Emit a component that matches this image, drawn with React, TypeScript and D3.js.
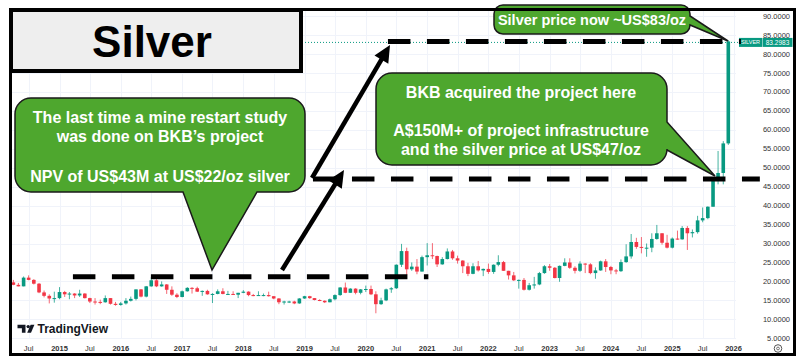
import { useEffect, useRef } from "react";
import * as d3 from "d3";

// monthly silver candles (XAGUSD)
const months = [
  "2014-04", "2014-05", "2014-06", "2014-07", "2014-08", "2014-09", "2014-10", "2014-11", "2014-12",
  "2015-01", "2015-02", "2015-03", "2015-04", "2015-05", "2015-06", "2015-07", "2015-08", "2015-09", "2015-10", "2015-11", "2015-12",
  "2016-01", "2016-02", "2016-03", "2016-04", "2016-05", "2016-06", "2016-07", "2016-08", "2016-09", "2016-10", "2016-11", "2016-12",
  "2017-01", "2017-02", "2017-03", "2017-04", "2017-05", "2017-06", "2017-07", "2017-08", "2017-09", "2017-10", "2017-11", "2017-12",
  "2018-01", "2018-02", "2018-03", "2018-04", "2018-05", "2018-06", "2018-07", "2018-08", "2018-09", "2018-10", "2018-11", "2018-12",
  "2019-01", "2019-02", "2019-03", "2019-04", "2019-05", "2019-06", "2019-07", "2019-08", "2019-09", "2019-10", "2019-11", "2019-12",
  "2020-01", "2020-02", "2020-03", "2020-04", "2020-05", "2020-06", "2020-07", "2020-08", "2020-09", "2020-10", "2020-11", "2020-12",
  "2021-01", "2021-02", "2021-03", "2021-04", "2021-05", "2021-06", "2021-07", "2021-08", "2021-09", "2021-10", "2021-11", "2021-12",
  "2022-01", "2022-02", "2022-03", "2022-04", "2022-05", "2022-06", "2022-07", "2022-08", "2022-09", "2022-10", "2022-11", "2022-12",
  "2023-01", "2023-02", "2023-03", "2023-04", "2023-05", "2023-06", "2023-07", "2023-08", "2023-09", "2023-10", "2023-11", "2023-12",
  "2024-01", "2024-02", "2024-03", "2024-04", "2024-05", "2024-06", "2024-07", "2024-08", "2024-09", "2024-10", "2024-11", "2024-12",
  "2025-01", "2025-02", "2025-03", "2025-04", "2025-05", "2025-06", "2025-07", "2025-08", "2025-09", "2025-10", "2025-11", "2025-12",
];

const opens = [
  19.75, 19.1, 18.7, 21.0, 20.4, 19.4, 17.1, 16.2, 15.5,
  15.6, 17.2, 16.6, 16.8, 16.3, 16.8, 15.6, 14.7, 14.6, 14.5, 15.6, 14.1,
  13.8, 14.2, 14.9, 15.4, 17.9, 16.0, 18.7, 20.3, 18.7, 19.2, 17.8, 16.5,
  15.9, 17.4, 18.3, 18.2, 17.3, 17.5, 16.6, 16.7, 17.4, 16.7, 16.7, 16.5,
  17.0, 17.3, 16.4, 16.3, 16.4, 16.4, 16.1, 15.5, 14.5, 14.7, 14.7, 14.2,
  15.5, 16.1, 15.6, 15.1, 14.9, 14.5, 15.3, 16.4, 18.4, 17.0, 18.1, 17.0,
  17.9, 18.0, 16.6, 14.0, 15.0, 17.9, 18.2, 24.4, 28.0, 23.2, 23.9, 22.6,
  26.4, 26.9, 26.7, 24.5, 25.9, 27.9, 26.1, 25.5, 24.0, 22.0, 24.0, 22.9,
  23.3, 22.5, 24.4, 25.1, 22.8, 21.6, 20.3, 20.4, 17.8, 19.0, 19.2, 22.2,
  24.0, 23.6, 20.9, 24.1, 25.0, 23.6, 22.8, 24.7, 24.5, 22.2, 22.9, 25.3,
  23.8, 22.9, 22.7, 25.1, 26.6, 30.4, 29.1, 28.9, 28.9, 31.2, 32.7, 30.2,
  28.9, 31.3, 31.1, 34.1, 32.7, 33.0, 36.1, 36.7, 39.7, 46.8, 48.6, 56.4,
];

const highs = [
  20.4, 19.6, 21.3, 21.6, 20.6, 19.6, 17.6, 16.6, 17.3,
  18.5, 17.5, 17.2, 16.9, 17.8, 16.9, 15.7, 15.6, 15.2, 16.3, 15.6, 14.6,
  14.6, 15.6, 16.0, 17.9, 18.0, 18.8, 21.1, 20.6, 20.0, 19.3, 18.7, 16.9,
  17.6, 18.5, 18.5, 18.6, 17.6, 17.8, 16.9, 17.9, 18.2, 17.5, 17.4, 17.0,
  17.7, 17.4, 16.7, 17.4, 16.8, 17.3, 16.1, 15.6, 14.9, 14.9, 14.9, 15.6,
  16.2, 16.2, 15.6, 15.3, 15.0, 15.5, 16.6, 18.5, 19.7, 18.2, 18.2, 18.0,
  18.9, 18.9, 17.4, 15.7, 18.1, 18.5, 24.5, 29.9, 28.9, 25.0, 25.9, 26.8,
  30.1, 30.1, 26.8, 26.4, 28.7, 28.3, 26.8, 25.6, 24.9, 24.8, 25.4, 23.4,
  24.7, 24.5, 26.9, 25.4, 22.8, 22.5, 20.5, 20.9, 19.6, 21.2, 22.5, 24.3,
  24.6, 23.8, 24.2, 26.1, 26.1, 24.0, 25.3, 24.8, 24.8, 23.7, 25.5, 25.9,
  24.1, 23.3, 25.8, 29.8, 32.5, 31.5, 31.7, 30.0, 32.7, 34.9, 32.7, 32.3,
  31.6, 33.4, 34.6, 34.6, 33.7, 37.3, 39.5, 39.8, 47.0, 54.4, 57.0, 83.6,
];

const lows = [
  19.0, 18.7, 18.7, 20.3, 19.2, 16.9, 15.8, 14.2, 14.4,
  15.3, 15.9, 15.3, 15.6, 15.9, 15.5, 14.3, 13.9, 14.0, 14.4, 13.9, 13.6,
  13.6, 13.9, 14.7, 15.0, 15.8, 15.8, 18.6, 18.5, 18.6, 16.7, 16.2, 15.6,
  15.8, 17.3, 16.8, 17.2, 16.2, 16.5, 14.3, 16.6, 16.6, 16.6, 16.5, 15.6,
  16.9, 16.1, 16.1, 16.3, 16.1, 16.0, 15.3, 14.0, 13.9, 14.3, 14.0, 14.1,
  15.4, 15.4, 15.0, 14.8, 14.3, 14.5, 15.0, 16.2, 16.9, 17.0, 16.6, 16.6,
  17.2, 16.4, 11.6, 13.8, 14.8, 17.0, 18.0, 23.8, 21.7, 22.8, 21.9, 22.6,
  24.2, 25.9, 23.8, 24.4, 25.8, 25.7, 24.7, 22.2, 21.4, 21.9, 22.6, 21.4,
  22.0, 22.0, 24.0, 22.8, 20.5, 20.1, 18.1, 17.6, 17.6, 18.1, 19.0, 22.0,
  22.8, 20.8, 19.9, 24.0, 23.3, 22.1, 22.5, 22.2, 21.9, 20.7, 22.8, 22.5,
  21.9, 21.9, 22.5, 24.9, 26.0, 28.6, 27.4, 26.5, 27.7, 31.0, 29.7, 28.7,
  28.7, 31.0, 31.0, 28.3, 31.6, 32.6, 35.6, 36.4, 39.7, 45.6, 45.6, 56.0,
];

const closes = [
  19.1, 18.7, 21.0, 20.4, 19.4, 17.1, 16.2, 15.5, 15.6,
  17.2, 16.6, 16.8, 16.3, 16.8, 15.6, 14.7, 14.6, 14.5, 15.6, 14.1, 13.8,
  14.2, 14.9, 15.4, 17.9, 16.0, 18.7, 20.3, 18.7, 19.2, 17.8, 16.5, 15.9,
  17.4, 18.3, 18.2, 17.3, 17.5, 16.6, 16.7, 17.4, 16.7, 16.7, 16.5, 17.0,
  17.3, 16.4, 16.3, 16.4, 16.4, 16.1, 15.5, 14.5, 14.7, 14.7, 14.2, 15.5,
  16.1, 15.6, 15.1, 14.9, 14.5, 15.3, 16.4, 18.4, 17.0, 18.1, 17.0, 17.9,
  18.0, 16.6, 14.0, 15.0, 17.9, 18.2, 24.4, 28.0, 23.2, 23.9, 22.6, 26.4,
  26.9, 26.7, 24.5, 25.9, 27.9, 26.1, 25.5, 24.0, 22.0, 24.0, 22.9, 23.3,
  22.5, 24.4, 25.1, 22.8, 21.6, 20.3, 20.4, 17.8, 19.0, 19.2, 22.2, 24.0,
  23.6, 20.9, 24.1, 25.0, 23.6, 22.8, 24.7, 24.5, 22.2, 22.9, 25.3, 23.8,
  22.9, 22.7, 25.1, 26.6, 30.4, 29.1, 28.9, 28.9, 31.2, 32.7, 30.2, 28.9,
  31.3, 31.1, 34.1, 32.7, 33.0, 36.1, 36.7, 39.7, 46.8, 48.6, 56.4, 83.3,
];

const lastPrice = 83.2983;
const priceTicks = [5, 10, 15, 20, 25, 30, 35, 40, 45, 50, 55, 60, 65, 70, 75, 80, 85, 90];
const timeTicks = [
  "2014-07", "2015-01", "2015-07", "2016-01", "2016-07", "2017-01", "2017-07", "2018-01", "2018-07",
  "2019-01", "2019-07", "2020-01", "2020-07", "2021-01", "2021-07", "2022-01", "2022-07", "2023-01",
  "2023-07", "2024-01", "2024-07", "2025-01", "2025-07", "2026-01",
];

// dashed price levels drawn on the chart: [price, from, to]
const levelPrices = [21.2, 47.0, 83.3];
const levelStarts = ["2015-03-22", "2019-02-20", "2020-05-12"];
const levelEnds = ["2021-01-08", "2026-06-07", "2026-02-14"];

const calloutLines1 = ["The last time a mine restart study", "was done on BKB\u2019s project", "", "NPV of US$43M at US$22/oz silver"];
const calloutLines2 = ["BKB acquired the project here", "", "A$150M+ of project infrastructure", "and the silver price at US$47/oz"];
const calloutLines3 = ["Silver price now ~US$83/oz"];

const FONT = "'Liberation Sans', Arial, Helvetica, sans-serif";
const UP = "#089981";
const DOWN = "#f23645";
const CALLOUT = "#4ea72e";

// rounded box with a pointer on bottom or right side
const calloutPath = (
  x0: number, y0: number, x1: number, y1: number, r: number,
  side: "bottom" | "right", a: number, b: number, tx: number, ty: number
) => {
  let p = `M${x0 + r},${y0} H${x1 - r} A${r},${r} 0 0 1 ${x1},${y0 + r}`;
  if (side === "right") p += ` V${a} L${tx},${ty} L${x1},${b}`;
  p += ` V${y1 - r} A${r},${r} 0 0 1 ${x1 - r},${y1}`;
  if (side === "bottom") p += ` H${b} L${tx},${ty} L${a},${y1}`;
  p += ` H${x0 + r} A${r},${r} 0 0 1 ${x0},${y1 - r} V${y0 + r} A${r},${r} 0 0 1 ${x0 + r},${y0} Z`;
  return p;
};

const App = () => {
  const chartContainer = useRef<SVGSVGElement>(null);

  useEffect(() => {
    const width = 800;
    const height = 363;
    const plotLeft = 12;
    const plotRight = 736;
    const plotTop = 10;
    const plotBottom = 339;

    const parseM = d3.timeParse("%Y-%m");
    const parseD = d3.timeParse("%Y-%m-%d");

    const x = d3
      .scaleTime()
      .domain([new Date(2015, 0, 1), new Date(2026, 0, 1)])
      .range([59.5, 733.5]);
    const y = d3.scaleLinear().domain([5, 90]).range([338.3, 16]);

    const svg = d3.select(chartContainer.current);
    svg.selectAll("*").remove();
    svg.attr("width", width).attr("height", height);

    svg.append("rect").attr("width", width).attr("height", height).attr("fill", "#fff");

    const clip = svg.append("defs").append("clipPath").attr("id", "plot");
    clip
      .append("rect")
      .attr("x", plotLeft)
      .attr("y", plotTop)
      .attr("width", plotRight - plotLeft)
      .attr("height", plotBottom - plotTop);

    // grid
    const grid = svg.append("g").attr("stroke", "#f0f3fa").attr("stroke-width", 1);
    grid
      .selectAll("line.v")
      .data(timeTicks)
      .enter()
      .append("line")
      .attr("x1", (d) => Math.round(x(parseM(d)!)) + 0.5)
      .attr("x2", (d) => Math.round(x(parseM(d)!)) + 0.5)
      .attr("y1", plotTop)
      .attr("y2", plotBottom);
    grid
      .selectAll("line.h")
      .data(priceTicks)
      .enter()
      .append("line")
      .attr("x1", plotLeft)
      .attr("x2", plotRight)
      .attr("y1", (d) => Math.round(y(d)) + 0.5)
      .attr("y2", (d) => Math.round(y(d)) + 0.5);

    // candles
    const candles = months.map((m, i) => ({
      date: parseM(m)!,
      o: opens[i],
      h: highs[i],
      l: lows[i],
      c: closes[i],
    }));
    const bw = 3.6;
    const cg = svg.append("g").attr("clip-path", "url(#plot)");
    const g = cg
      .selectAll("g.candle")
      .data(candles)
      .enter()
      .append("g")
      .attr("class", "candle");
    g.append("line")
      .attr("x1", (d) => x(d.date))
      .attr("x2", (d) => x(d.date))
      .attr("y1", (d) => y(d.h))
      .attr("y2", (d) => y(d.l))
      .attr("stroke", (d) => (d.c >= d.o ? UP : DOWN))
      .attr("stroke-opacity", 0.75)
      .attr("stroke-width", 1);
    g.append("rect")
      .attr("x", (d) => x(d.date) - bw / 2)
      .attr("y", (d) => y(Math.max(d.o, d.c)))
      .attr("width", bw)
      .attr("height", (d) => Math.max(1, Math.abs(y(d.o) - y(d.c))))
      .attr("fill", (d) => (d.c >= d.o ? UP : DOWN));

    // last price dotted line
    svg
      .append("line")
      .attr("x1", 302)
      .attr("x2", 739)
      .attr("y1", y(lastPrice) + 1)
      .attr("y2", y(lastPrice) + 1)
      .attr("stroke", UP)
      .attr("stroke-width", 1)
      .attr("stroke-dasharray", "1,2");

    // price axis
    svg
      .append("g")
      .selectAll("text")
      .data(priceTicks)
      .enter()
      .append("text")
      .attr("x", 790)
      .attr("y", (d) => y(d))
      .attr("dy", "0.35em")
      .attr("text-anchor", "end")
      .attr("font-family", FONT)
      .attr("font-size", 7.5)
      .attr("fill", "#333")
      .text((d) => d3.format(".4f")(d));

    // time axis
    svg
      .append("g")
      .selectAll("text")
      .data(timeTicks)
      .enter()
      .append("text")
      .attr("x", (d) => x(parseM(d)!))
      .attr("y", 348)
      .attr("dy", "0.35em")
      .attr("text-anchor", "middle")
      .attr("font-family", FONT)
      .attr("font-size", 7.5)
      .attr("font-weight", (d) => (d.endsWith("-01") ? "bold" : "normal"))
      .attr("fill", "#333")
      .text((d) => (d.endsWith("-01") ? d.slice(0, 4) : "Jul"));

    // settings gear
    svg.append("circle").attr("cx", 778).attr("cy", 348.5).attr("r", 3.8).attr("fill", "none").attr("stroke", "#555").attr("stroke-width", 1);
    svg.append("circle").attr("cx", 778).attr("cy", 348.5).attr("r", 1.4).attr("fill", "none").attr("stroke", "#555").attr("stroke-width", 0.8);

    // last price tag
    const ty = y(lastPrice) + 1;
    svg.append("rect").attr("x", 739).attr("y", ty - 4.5).attr("width", 23).attr("height", 9).attr("fill", UP);
    svg.append("rect").attr("x", 762.5).attr("y", ty - 4.5).attr("width", 30).attr("height", 9).attr("fill", UP);
    svg
      .append("text")
      .attr("x", 750.5)
      .attr("y", ty)
      .attr("dy", "0.35em")
      .attr("text-anchor", "middle")
      .attr("font-family", FONT)
      .attr("font-size", 5.5)
      .attr("fill", "#fff")
      .text("SILVER");
    svg
      .append("text")
      .attr("x", 777.5)
      .attr("y", ty)
      .attr("dy", "0.35em")
      .attr("text-anchor", "middle")
      .attr("font-family", FONT)
      .attr("font-size", 6.5)
      .attr("fill", "#fff")
      .text(d3.format(".4f")(lastPrice));

    // TradingView watermark
    const logo = svg.append("g").attr("fill", "#131722");
    logo.append("path").attr("d", "M17.5,324.8 h8 v8 h-3.6 v-4.6 h-4.4 z");
    logo.append("circle").attr("cx", 28.2).attr("cy", 326.6).attr("r", 1.7);
    logo.append("path").attr("d", "M27.2,332.8 L30.6,324.8 H34.4 L31,332.8 Z");
    logo
      .append("text")
      .attr("x", 37.5)
      .attr("y", 332.6)
      .attr("font-family", FONT)
      .attr("font-size", 12)
      .attr("font-weight", 600)
      .text("TradingView");

    // dashed price levels
    svg
      .append("g")
      .selectAll("line")
      .data(levelPrices)
      .enter()
      .append("line")
      .attr("x1", (_, i) => x(parseD(levelStarts[i])!))
      .attr("x2", (_, i) => x(parseD(levelEnds[i])!))
      .attr("y1", (d) => y(d))
      .attr("y2", (d) => y(d))
      .attr("stroke", "#000")
      .attr("stroke-width", 5)
      .attr("stroke-dasharray", "22.5,16.5");

    // arrows
    const arrow = (x0: number, y0: number, x1: number, y1: number) => {
      const len = Math.hypot(x1 - x0, y1 - y0);
      const ux = (x1 - x0) / len;
      const uy = (y1 - y0) / len;
      const hl = 17;
      const hw = 8;
      const bx = x1 - ux * hl;
      const by = y1 - uy * hl;
      svg
        .append("line")
        .attr("x1", x0)
        .attr("y1", y0)
        .attr("x2", bx + ux * 2)
        .attr("y2", by + uy * 2)
        .attr("stroke", "#000")
        .attr("stroke-width", 4.5);
      svg
        .append("path")
        .attr("d", `M${x1},${y1} L${bx - uy * hw},${by + ux * hw} L${bx + uy * hw},${by - ux * hw} Z`)
        .attr("fill", "#000");
    };
    arrow(282, 270, 344, 170);
    arrow(312, 178, 390, 45);

    // callouts
    const drawCallout = (d: string, lines: string[], cx: number, firstBaseline: number, lh: number, fs: number) => {
      svg.append("path").attr("d", d).attr("fill", CALLOUT).attr("stroke", "#1a1a1a").attr("stroke-width", 1.5);
      svg
        .append("g")
        .selectAll("text")
        .data(lines)
        .enter()
        .append("text")
        .attr("x", cx)
        .attr("y", (_, i) => firstBaseline + i * lh)
        .attr("text-anchor", "middle")
        .attr("font-family", FONT)
        .attr("font-size", fs)
        .attr("font-weight", "bold")
        .attr("fill", "#fff")
        .text((t) => t);
    };
    drawCallout(calloutPath(15, 98, 305, 192, 16, "bottom", 183, 257, 212, 270), calloutLines1, 160, 122.5, 19.7, 16);
    drawCallout(calloutPath(376, 73, 667, 165, 16, "right", 122, 150, 715, 176), calloutLines2, 521, 97.5, 19, 16);
    drawCallout(calloutPath(494, 5, 690, 34, 9, "right", 16, 25, 728, 41), calloutLines3, 592, 25, 19, 14.5);

    // title box
    svg
      .append("rect")
      .attr("x", 11)
      .attr("y", 10)
      .attr("width", 290)
      .attr("height", 61)
      .attr("fill", "#eeeeee")
      .attr("stroke", "#000")
      .attr("stroke-width", 4);
    svg
      .append("text")
      .attr("x", 152)
      .attr("y", 57)
      .attr("text-anchor", "middle")
      .attr("font-family", FONT)
      .attr("font-size", 44)
      .attr("font-weight", "bold")
      .attr("fill", "#000")
      .text("Silver");

    // outer frame
    svg
      .append("path")
      .attr("d", "M301,9.5 H794.5 V354.5 H10.5 V71")
      .attr("fill", "none")
      .attr("stroke", "#000")
      .attr("stroke-width", 3);
  }, []);

  return (
    <svg
      ref={chartContainer}
      width={800}
      height={363}
      style={{ position: "absolute", left: 0, top: 0, display: "block" }}
    ></svg>
  );
};

export default App;
